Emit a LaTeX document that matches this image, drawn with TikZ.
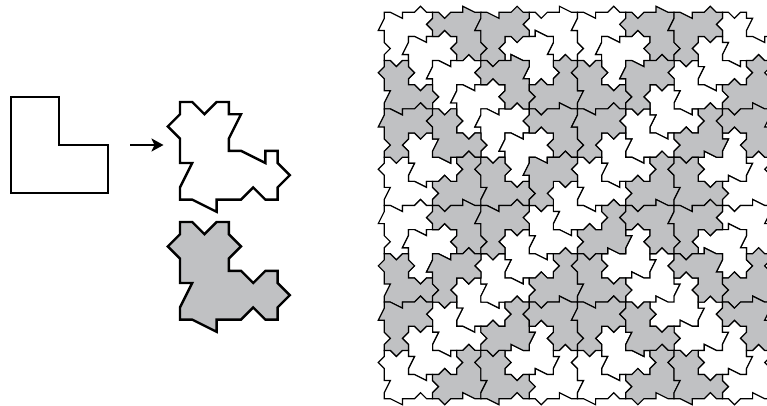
\documentclass[tikz,border=0pt]{standalone}
\usepackage{xcolor}
\usepackage{tikz}
\usetikzlibrary{arrows.meta}
\definecolor{tilegrey}{HTML}{C0C1C3}
\tikzset{
  ar/.style={-{Stealth[length=12bp,width=13bp,inset=3bp]},line width=2.1bp,black},
  bigl/.style={draw=black,line width=2.3bp,miter limit=10},
  bigtile/.style={draw=black,line width=2.4bp,x=12.2bp,y=12.2bp},
  wt/.style={draw=black,fill=white,line width=1.2bp,x=6.04bp,y=6.04bp},
  gt/.style={draw=black,fill=tilegrey,line width=1.2bp,x=6.04bp,y=6.04bp}
}
\newcommand{\whitepath}{(-4,4)--(-3,4)--(-2,3)--(-1,4)--(0,4)--(0,3)--(1,3)--(0,1)--(0,0)--(1,0)--(3,-1)--(3,0)--(4,0)--(4,-1)--(5,-2)--(4,-3)--(4,-4)--(3,-4)--(2,-3)--(1,-4)--(0,-4)--(-1,-4)--(-1,-5)--(-3,-4)--(-4,-4)--(-4,-3)--(-3,-1)--(-4,-1)--(-4,0)--(-4,1)--(-5,2)--(-4,3)--cycle}
\newcommand{\greypath}{(-4,4)--(-3,4)--(-2,3)--(-1,4)--(0,4)--(0,3)--(1,2)--(0,1)--(0,0)--(1,0)--(2,-1)--(3,0)--(4,0)--(4,-1)--(5,-2)--(4,-3)--(4,-4)--(3,-4)--(2,-3)--(1,-4)--(0,-4)--(-1,-4)--(-1,-5)--(-3,-4)--(-4,-4)--(-4,-3)--(-3,-1)--(-4,-1)--(-4,0)--(-4,1)--(-5,2)--(-4,3)--cycle}
\begin{document}
\begin{tikzpicture}[x=1bp,y=1bp]
\useasboundingbox (0,0) rectangle (767,405);
% left side
\draw[bigl] (10.7,308.3)--(59,308.3)--(59,260)--(107.7,260)--(107.7,211.7)--(10.7,211.7)--cycle;
\coordinate (arstart) at (130,260);
\coordinate (arend) at (163.5,260);
\draw[ar] (arstart)--(arend);
\draw[shift={(228.8,254.2)},bigtile] \whitepath;
\draw[shift={(228.8,134.2)},bigtile,fill=tilegrey] \greypath;
% white tiles
\foreach \i/\j/\r in {0/0/-90,1/1/-90,2/2/-90,3/3/-90,4/4/-90,5/5/-90,6/0/180,5/1/180,1/5/0,0/6/0,
  8/0/-90,9/1/-90,14/0/0,13/1/0,12/2/0,11/3/0,10/4/0,9/5/0,8/6/0,13/5/90,14/6/90,
  7/7/0,
  0/8/-90,1/9/-90,3/11/0,6/8/0,5/9/0,4/10/0,2/12/0,1/13/0,0/14/0,5/13/90,6/14/90,
  9/9/90,10/10/90,11/11/90,14/8/180,13/9/180,9/13/0,8/14/0,12/12/90,13/13/90,14/14/90}{
  \draw[shift={({384.3+24.15*(\i+1)},{392.7-24.15*(\j+1)})},rotate=\r,wt] \whitepath;
}
% grey tiles
\foreach \i/\j/\r in {2/0/180,0/2/0,4/0/-90,4/2/180,6/2/90,0/4/-90,2/4/0,2/6/90,6/4/180,4/6/0,6/6/-90,
  10/0/180,12/0/-90,8/2/0,10/2/-90,14/2/90,8/4/-90,10/6/90,12/4/90,14/4/180,12/6/0,
  2/8/180,0/10/0,2/10/-90,4/8/-90,6/10/90,0/12/-90,2/14/90,4/12/90,6/12/180,4/14/0,
  8/8/90,10/8/180,8/10/0,12/8/-90,12/10/180,14/10/90,8/12/-90,10/12/0,10/14/90,14/12/180,12/14/0}{
  \draw[shift={({384.3+24.15*(\i+1)},{392.7-24.15*(\j+1)})},rotate=\r,gt] \greypath;
}
\end{tikzpicture}
\end{document}
